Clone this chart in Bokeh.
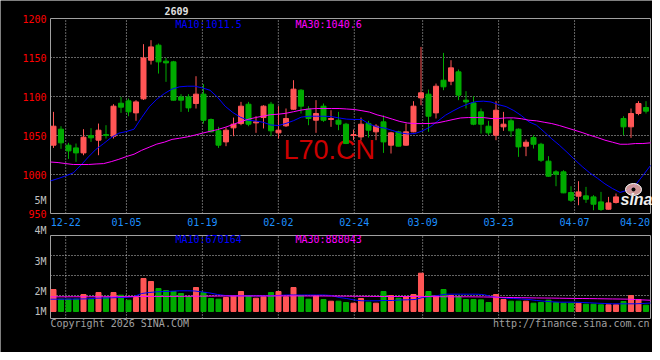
from bokeh.plotting import figure
from bokeh.models import Range1d, ColumnDataSource
from bokeh.embed import file_html
from bokeh.resources import INLINE
from bokeh.core.properties import value

# ---------------- data ----------------
dates = ["12-18", "12-19", "12-22", "12-23", "12-24", "12-25", "12-26", "12-29", "12-30", "12-31",
         "01-05", "01-06", "01-07", "01-08", "01-09", "01-12", "01-13", "01-14", "01-15", "01-16",
         "01-19", "01-20", "01-21", "01-22", "01-23", "01-26", "01-27", "01-28", "01-29", "01-30",
         "02-02", "02-03", "02-04", "02-05", "02-06", "02-09", "02-10", "02-11", "02-12", "02-13",
         "02-24", "02-25", "02-26", "02-27", "03-02", "03-03", "03-04", "03-05", "03-06", "03-09",
         "03-10", "03-11", "03-12", "03-13", "03-16", "03-17", "03-18", "03-19", "03-20", "03-23",
         "03-24", "03-25", "03-26", "03-27", "03-30", "03-31", "04-01", "04-02", "04-03", "04-07",
         "04-08", "04-09", "04-10", "04-13", "04-14", "04-15", "04-16", "04-17", "04-20", "04-21"]

opens = [1037.6, 1058.1, 1037.6, 1034.1, 1027.7, 1050.0, 1044.0, 1051.2, 1049.1, 1091.4,
         1094.4, 1079.0, 1097.0, 1146.5, 1165.8, 1145.3, 1144.4, 1099.5, 1099.5, 1091.0,
         1103.0, 1070.5, 1056.0, 1041.8, 1059.8, 1065.3, 1090.1, 1066.2, 1073.0, 1090.1,
         1053.4, 1062.4, 1083.7, 1108.1, 1083.7, 1069.6, 1087.6, 1070.5, 1069.6, 1064.5,
         1050.0, 1048.2, 1065.3, 1054.7, 1067.5, 1037.6, 1054.7, 1037.6, 1054.7, 1098.2,
         1103.0, 1079.0, 1120.9, 1119.6, 1131.6, 1095.3, 1091.8, 1080.3, 1061.9, 1050.4,
         1061.1, 1068.8, 1058.1, 1036.3, 1047.4, 1038.8, 1017.1, 1003.4, 1003.4, 976.9,
         972.2, 972.6, 971.3, 964.9, 955.5, 964.1, 1071.8, 1061.1, 1078.2, 1085.9]
highs = [1080.3, 1061.9, 1040.6, 1039.7, 1058.1, 1059.4, 1065.3, 1063.2, 1090.1, 1099.5,
         1097.4, 1095.3, 1167.1, 1172.2, 1167.9, 1149.5, 1145.7, 1103.0, 1103.0, 1126.0,
         1115.8, 1071.8, 1061.1, 1060.2, 1073.0, 1093.1, 1093.1, 1074.7, 1088.8, 1093.1,
         1087.6, 1084.6, 1120.9, 1109.4, 1087.6, 1095.3, 1091.0, 1082.4, 1080.3, 1066.2,
         1057.6, 1073.0, 1068.8, 1064.5, 1076.0, 1054.7, 1056.0, 1065.3, 1094.0, 1163.6,
         1108.9, 1116.6, 1155.9, 1146.5, 1134.6, 1106.8, 1100.4, 1084.6, 1068.8, 1094.0,
         1080.3, 1071.8, 1059.0, 1044.8, 1050.4, 1040.6, 1023.5, 1005.5, 1005.5, 985.0,
         991.4, 984.1, 973.5, 977.7, 971.3, 975.6, 1074.7, 1084.6, 1094.0, 1094.0]
lows = [1034.1, 1032.9, 1020.0, 1016.2, 1024.7, 1041.8, 1024.7, 1046.1, 1046.1, 1079.0,
        1074.7, 1068.8, 1095.5, 1141.0, 1129.4, 1118.8, 1094.8, 1080.3, 1080.3, 1084.6,
        1065.3, 1054.0, 1034.1, 1036.3, 1049.1, 1063.2, 1061.9, 1053.4, 1059.0, 1049.1,
        1046.1, 1061.0, 1083.0, 1078.2, 1063.2, 1053.4, 1067.5, 1061.1, 1056.8, 1039.0,
        1044.0, 1044.0, 1047.4, 1044.0, 1027.7, 1026.9, 1036.0, 1037.0, 1054.2, 1088.8,
        1054.7, 1071.8, 1108.1, 1114.5, 1095.3, 1084.6, 1063.2, 1052.5, 1050.4, 1044.0,
        1056.0, 1048.2, 1022.6, 1023.5, 1033.3, 1016.2, 997.0, 985.0, 976.0, 964.9,
        960.6, 963.6, 954.2, 953.4, 955.0, 962.8, 1050.4, 1047.0, 1076.0, 1078.2]
closes = [1061.9, 1040.6, 1030.3, 1027.7, 1047.8, 1047.0, 1056.8, 1050.0, 1087.6, 1086.3,
          1080.3, 1093.1, 1149.5, 1163.6, 1144.4, 1143.1, 1095.3, 1095.3, 1085.4, 1103.0,
          1069.6, 1054.7, 1037.6, 1056.8, 1064.5, 1087.6, 1064.5, 1067.5, 1087.6, 1056.0,
          1056.8, 1071.8, 1109.4, 1087.6, 1071.8, 1078.2, 1069.6, 1071.8, 1064.5, 1039.7,
          1051.2, 1064.5, 1056.8, 1061.9, 1041.8, 1053.4, 1036.3, 1054.7, 1087.6, 1104.7,
          1074.7, 1113.2, 1112.4, 1136.7, 1101.7, 1093.1, 1064.5, 1064.5, 1053.4, 1082.4,
          1064.5, 1056.0, 1035.4, 1041.4, 1038.8, 1018.3, 997.8, 1000.4, 976.5, 967.0,
          977.7, 968.3, 961.9, 955.1, 963.6, 971.3, 1061.1, 1078.2, 1091.0, 1081.2]

ma10 = [991.8, 994.8, 998.2, 1002.1, 1011.9, 1022.6, 1032.4, 1039.7, 1047.4, 1053.0,
        1055.1, 1058.1, 1073.0, 1086.7, 1096.5, 1103.8, 1109.5, 1112.4, 1113.2, 1113.2,
        1111.0, 1108.0, 1099.0, 1087.5, 1079.5, 1073.5, 1069.6, 1068.6, 1067.0, 1063.5,
        1062.8, 1065.5, 1069.0, 1073.5, 1074.7, 1074.7, 1074.7, 1074.2, 1072.5, 1071.0,
        1070.5, 1070.5, 1064.5, 1061.0, 1059.5, 1056.5, 1053.5, 1052.0, 1052.5, 1056.0,
        1061.1, 1068.5, 1076.0, 1081.5, 1086.5, 1090.5, 1093.5, 1094.0, 1093.0, 1089.5,
        1087.0, 1082.0, 1075.5, 1067.5, 1063.2, 1054.7, 1045.7, 1037.6, 1028.6, 1019.2,
        1010.2, 1002.1, 995.3, 988.0, 982.0, 977.0, 980.0, 986.3, 998.7, 1011.5]
ma30 = [1016.0, 1015.3, 1014.0, 1012.8, 1012.8, 1012.8, 1013.5, 1014.0, 1016.5, 1019.5,
        1023.0, 1026.0, 1031.0, 1035.0, 1039.0, 1041.5, 1045.0, 1046.5, 1048.2, 1050.5,
        1053.0, 1055.3, 1057.6, 1060.5, 1064.0, 1067.5, 1070.7, 1073.0, 1074.9, 1076.7,
        1077.3, 1078.5, 1080.5, 1082.6, 1084.0, 1084.6, 1084.6, 1084.6, 1084.6, 1084.0,
        1083.3, 1081.8, 1080.0, 1076.5, 1074.0, 1071.0, 1068.0, 1066.0, 1065.3, 1065.3,
        1065.5, 1066.3, 1068.3, 1070.5, 1072.5, 1073.0, 1073.0, 1073.0, 1071.8, 1071.8,
        1072.6, 1072.6, 1071.5, 1069.6, 1068.8, 1067.0, 1065.3, 1062.8, 1059.8, 1056.8,
        1053.8, 1050.4, 1047.4, 1044.0, 1041.4, 1038.8, 1038.8, 1039.7, 1039.7, 1040.6]

volumes = [1738000, 972000, 972000, 972000, 1343000, 972000, 1501000, 1106000, 1501000, 1288000,
           893000, 1106000, 2607000, 2370000, 1817000, 1659000, 1580000, 1422000, 1185000, 1896000,
           1501000, 1027000, 972000, 1106000, 1240000, 1580000, 1240000, 1051000, 1161000, 1501000,
           1580000, 1161000, 1896000, 1264000, 972000, 1240000, 948000, 814000, 814000, 711000,
           656000, 1027000, 735000, 656000, 1580000, 1264000, 1051000, 1185000, 1343000, 3026000,
           1580000, 1264000, 1738000, 1264000, 1185000, 948000, 948000, 924000, 711000, 1343000,
           948000, 814000, 814000, 814000, 656000, 711000, 893000, 711000, 656000, 656000,
           656000, 577000, 577000, 529000, 529000, 529000, 790000, 1264000, 948000, 498000]
vol_ma10 = [972000, 972000, 980000, 980000, 990000, 1000000, 1051000, 1067000, 1082000, 1106000,
            1106000, 1185000, 1422000, 1501000, 1556000, 1580000, 1604000, 1635000, 1635000, 1620000,
            1541000, 1462000, 1343000, 1264000, 1240000, 1240000, 1240000, 1240000, 1240000, 1240000,
            1264000, 1304000, 1304000, 1304000, 1304000, 1304000, 1304000, 1264000, 1106000, 1027000,
            909000, 845000, 845000, 845000, 869000, 869000, 909000, 924000, 948000, 1106000,
            1185000, 1264000, 1367000, 1367000, 1367000, 1367000, 1367000, 1343000, 1185000, 1106000,
            1051000, 1027000, 988000, 948000, 869000, 814000, 766000, 735000, 735000, 735000,
            711000, 687000, 656000, 632000, 608000, 608000, 608000, 608000, 632000, 670164]
vol_ma30 = [1161000, 1161000, 1161000, 1165000, 1165000, 1165000, 1165000, 1170000, 1170000, 1170000,
            1175000, 1175000, 1185000, 1185000, 1190000, 1190000, 1195000, 1195000, 1200000, 1205000,
            1210000, 1215000, 1220000, 1225000, 1225000, 1225000, 1225000, 1225000, 1225000, 1225000,
            1230000, 1230000, 1230000, 1230000, 1225000, 1225000, 1225000, 1220000, 1215000, 1210000,
            1205000, 1200000, 1195000, 1190000, 1185000, 1185000, 1185000, 1185000, 1185000, 1185000,
            1180000, 1170000, 1165000, 1161000, 1161000, 1161000, 1155000, 1150000, 1140000, 1125000,
            1110000, 1100000, 1090000, 1080000, 1070000, 1065000, 1060000, 1050000, 1040000, 1030000,
            1025000, 1020000, 1010000, 1000000, 990000, 985000, 975000, 950000, 915000, 888043]

tick_idx = [2, 10, 20, 30, 40, 49, 59, 69, 78]          # dated gridlines / labels
price_ticks = [950, 1000, 1050, 1100, 1150, 1200]
price_grid = [1000, 1050, 1100, 1150]
vol_grid = [1264000, 2844000, 4424000]
vol_axis_labels = ["5M", "4M", "3M", "2M", "1M"]
vol_axis_levels = [8745000, 6360000, 3966000, 1596000, 16000]   # where Sina prints them
title_code = "2609"

# ---------------- layout (pixels of the 652x352 canvas) ----------------
W, H = 652, 352
FX0, FX1 = 50, 650            # frame left / right
PY_TOP, PY_BOT = 18, 213      # price panel top / bottom
V_TOP, V_BOT = 235, 318       # volume panel top / bottom
VOL_BASE_PX, VOL_PER_PX = 311, 79000

N = len(dates)
PAD = 0.4
slot = (FX1 - FX0) / N
price_lo, price_hi = price_ticks[0], price_ticks[-1]
ppu = (PY_BOT - PY_TOP) / (price_hi - price_lo)


def xd(px):
    return (px - FX0) / slot - PAD


def py(px):
    return price_hi - (px - PY_TOP) / ppu


def vy(px):
    return (VOL_BASE_PX - px) * VOL_PER_PX


UP, DOWN = "#ff5555", "#00aa00"
GRID, FRAME = "#c8c8c8", "#a0a0a0"
MONO = "DejaVu Sans Mono"

# Sina spreads its MA lines and date grid over N-1 steps across the frame
ma_x = [-PAD + k * N / (N - 1) for k in range(N)]
grid_pos = [ma_x[k] for k in tick_idx[:-1]]
label_pos = grid_pos + [min(ma_x[tick_idx[-1]], xd(FX1 - 15.5))]

colors = [UP if c >= o else DOWN for o, c in zip(opens, closes)]
src = ColumnDataSource(dict(
    x=list(range(N)), h=highs, l=lows,
    top=[max(o, c) for o, c in zip(opens, closes)],
    bot=[min(o, c) for o, c in zip(opens, closes)],
    color=colors, vol=volumes))

p = figure(width=W, height=H, x_range=Range1d(xd(0), xd(W)), y_range=Range1d(py(H), py(0)),
           output_backend="svg", toolbar_location=None, title=None,
           x_axis_location=None, y_axis_location=None, min_border=0,
           background_fill_color="black", border_fill_color="black", outline_line_color=None)
p.grid.visible = False
p.extra_y_ranges = {"vol": Range1d(vy(H), vy(0))}
vol_lo, vol_hi = vy(V_BOT), vy(V_TOP)


def txt(xs, ys, texts, color, align="left", size="10px", font=MONO, style="normal",
        baseline="middle", yr=None):
    kw = dict(x=xs, y=ys, text=texts, text_color=color, text_align=align,
              text_baseline=baseline, text_font=value(font), text_font_size=size,
              text_font_style=style)
    if yr:
        kw["y_range_name"] = yr
    p.text(**kw)


DOT = dict(line_color=GRID, line_dash="1 2", line_width=1)
ng, nh, nv = len(grid_pos), len(price_grid), len(vol_grid)
# dotted grids
p.segment(x0=grid_pos, y0=[price_lo] * ng, x1=grid_pos, y1=[price_hi] * ng, **DOT)
p.segment(x0=[-PAD] * nh, y0=price_grid, x1=[N - PAD] * nh, y1=price_grid, **DOT)
p.segment(x0=grid_pos, y0=[vol_lo] * ng, x1=grid_pos, y1=[vol_hi] * ng, y_range_name="vol", **DOT)
p.segment(x0=[-PAD] * nv, y0=vol_grid, x1=[N - PAD] * nv, y1=vol_grid, y_range_name="vol", **DOT)

# watermark under the candles
txt([xd(283)], [py(149.5)], ["L70.CN"], "#cc0000", size="27px", font="Liberation Sans")

# panel frames
p.quad(left=[-PAD], right=[N - PAD], bottom=[price_lo], top=[price_hi],
       fill_color=None, line_color=FRAME, line_width=1)
p.quad(left=[-PAD], right=[N - PAD], bottom=[vol_lo], top=[vol_hi], y_range_name="vol",
       fill_color=None, line_color=FRAME, line_width=1)

# candles
p.segment(x0="x", y0="l", x1="x", y1="h", line_color="color", line_width=1, source=src)
p.vbar(x="x", width=0.667, top="top", bottom="bot", fill_color="color",
       line_color="color", line_width=1, source=src)
p.line(ma_x, ma10, line_color="#0000ff", line_width=1)
p.line(ma_x, ma30, line_color="#ff00ff", line_width=1)

# volume
p.vbar(x="x", width=0.667, top="vol", bottom=0, fill_color="color", line_color="color",
       line_width=1, source=src, y_range_name="vol")
p.line(ma_x, vol_ma10, line_color="#0000ff", line_width=1, y_range_name="vol")
p.line(ma_x, vol_ma30, line_color="#ff00ff", line_width=1, y_range_name="vol")

# tick labels
txt([xd(46)] * len(price_ticks), price_ticks, [str(t) for t in price_ticks], "#ff0000",
    align="right")
txt([xd(46)] * len(vol_axis_labels), vol_axis_levels, vol_axis_labels, "#c0c0c0",
    align="right", yr="vol")
txt(label_pos, [py(221)] * len(tick_idx), [dates[k] for k in tick_idx], "#1e90ff",
    align="center")

# legends / captions
txt([xd(175)], [py(23.7)], [f"MA10:{ma10[-1]}"], "#0000ff")
txt([xd(295)], [py(23.7)], [f"MA30:{ma30[-1]}"], "#ff00ff")
txt([xd(175)], [vy(239)], [f"MA10:{vol_ma10[-1]}"], "#0000ff", yr="vol")
txt([xd(295)], [vy(239)], [f"MA30:{vol_ma30[-1]}"], "#ff00ff", yr="vol")
txt([xd(176)], [py(10)], [title_code], "#e0e0e0", align="center", style="bold")
txt([xd(FX0)], [vy(323)], ["Copyright 2026 SINA.COM"], "#a0a0a0", yr="vol")
txt([xd(649)], [vy(323)], ["http://finance.sina.com.cn"], "#a0a0a0", align="right", yr="vol")

# sina logo (pink eye + wordmark)
p.ellipse(x=[xd(633)], y=[py(189)], width=16, height=12, width_units="screen",
          height_units="screen", fill_color="#f0b0b0", fill_alpha=0.85,
          line_color="#ffffff", line_width=1)
p.scatter(x=[xd(633)], y=[py(189)], size=4, marker="circle", fill_color="black",
          line_color=None)
txt([xd(636)], [py(199)], ["sina"], "#f0f0f0", align="center", size="16px",
    font="Liberation Sans", style="bold italic")

open("out.html", "w").write(file_html(p, INLINE))
